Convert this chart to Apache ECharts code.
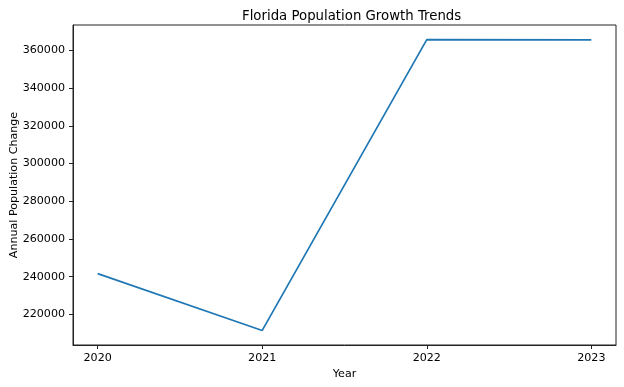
<!DOCTYPE html>
<html>
<head>
<meta charset="utf-8">
<script src="https://cdn.jsdelivr.net/npm/echarts@6/dist/echarts.min.js"></script>
<style>html,body{margin:0;padding:0;background:#fff}#c{width:624px;height:387px}</style>
</head>
<body>
<div id="c"></div>
<script>
const years = [2020, 2021, 2022, 2023];
const popChange = [241600, 211500, 365700, 365500];
const yTicks = [220000, 240000, 260000, 280000, 300000, 320000, 340000, 360000];

const font = 'DejaVu Sans';
const chart = echarts.init(document.getElementById('c'), null, {renderer: 'canvas'});
const ymin = Math.min(...popChange), ymax = Math.max(...popChange);
const pad = (ymax - ymin) * 0.05;
const xpad = (years[years.length-1] - years[0]) * 0.05;
chart.setOption({
  animation: false,
  title: {text: 'Florida Population Growth Trends', left: 237, top: 5,
    textStyle: {fontFamily: font, fontSize: 13.3, fontWeight: 'normal', color: '#000'}},
  grid: {left: 73, top: 25, right: 8, bottom: 42, show: true, borderColor: '#222', borderWidth: 1,
    backgroundColor: 'transparent', containLabel: false, outerBoundsMode: 'none'},
  xAxis: {
    type: 'value', min: years[0] - xpad, max: years[years.length-1] + xpad,
    name: 'Year', nameLocation: 'middle', nameGap: 24, nameMoveOverlap: false,
    nameTextStyle: {fontFamily: font, fontSize: 11.1, color: '#000'},
    axisLine: {show: true, lineStyle: {color: '#222', width: 1}},
    axisTick: {show: true, inside: false, length: 4, lineStyle: {color: '#222', width: 1}, customValues: years},
    axisLabel: {fontFamily: font, fontSize: 11.1, color: '#000', margin: 8, customValues: years, formatter: v => String(v)},
    splitLine: {show: false}
  },
  yAxis: {
    type: 'value', min: ymin - pad, max: ymax + pad,
    name: 'Annual Population Change', nameLocation: 'middle', nameGap: 53.5, nameMoveOverlap: false,
    nameTextStyle: {fontFamily: font, fontSize: 11.1, color: '#000'},
    axisLine: {show: true, lineStyle: {color: '#222', width: 1}},
    axisTick: {show: true, inside: false, length: 4, lineStyle: {color: '#222', width: 1}, customValues: yTicks},
    axisLabel: {fontFamily: font, fontSize: 11.1, color: '#000', margin: 8, customValues: yTicks, formatter: v => String(v)},
    splitLine: {show: false}
  },
  series: [{
    type: 'line', data: years.map((y, i) => [y, popChange[i]]),
    showSymbol: false, symbol: 'none',
    lineStyle: {color: '#1f77b4', width: 1.7}
  }]
});
</script>
</body>
</html>
